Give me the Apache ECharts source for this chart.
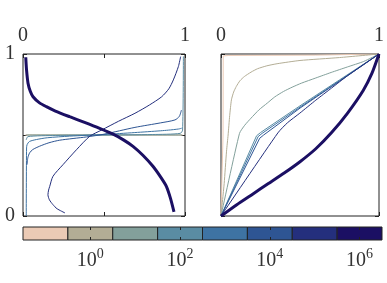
<!DOCTYPE html>
<html><head><meta charset="utf-8">
<script src="https://cdn.jsdelivr.net/npm/echarts@6/dist/echarts.min.js"></script>
<style>html,body{margin:0;padding:0;background:#fff}#c{width:387px;height:283px}</style>
</head><body><div id="c"></div>
<script>
// colour levels (one per decade of the parameter)
const levelColors = ['#ebcab5','#b3ad95','#83a09b','#5a8ca3','#3e73a3','#2e5593','#242f7d','#1b0f63'];
const levelWidths = [1,1,1,1,1,1,1,3];
// colorbar: bin edges in log10 units and labelled exponents
const cbEdges = [-1.5,-0.5,0.5,1.5,2.5,3.5,4.5,5.5,6.5];
const cbTicks = [0,2,4,6];
const panelTicks = [0,1];

// left panel curves [x, y]
const L1 = [[0.015,0.5],[0.985,0.5]];
const L2 = [[0.017,0.5],[0.983,0.5]];
const L3 = [[0.02,0.5],[0.98,0.5]];
const L4 = [[0.99,0.985],[0.985,0.53],[0.97,0.51],[0.8,0.503],[0.5,0.5],[0.2,0.497],[0.03,0.49],[0.02,0.47]];
const L5 = [[0.02,0.0],[0.022,0.42],[0.025,0.44],[0.04,0.46],[0.083,0.472],[0.15,0.483],[0.288,0.493],[0.5,0.503],[0.69,0.515],[0.85,0.526],[0.897,0.53],[0.96,0.537],[0.98,0.542]];
const L6 = [[0.025,0.317],[0.03,0.36],[0.041,0.39],[0.06,0.41],[0.103,0.431],[0.16,0.452],[0.227,0.468],[0.391,0.488],[0.5,0.505],[0.691,0.547],[0.85,0.575],[0.938,0.593],[0.965,0.615],[0.978,0.654]];
const L7 = [[0.259,0.019],[0.21,0.045],[0.185,0.07],[0.163,0.1],[0.154,0.131],[0.158,0.16],[0.165,0.183],[0.185,0.245],[0.247,0.317],[0.33,0.409],[0.412,0.492],[0.486,0.531],[0.59,0.585],[0.691,0.634],[0.78,0.685],[0.856,0.736],[0.9,0.785],[0.928,0.84],[0.959,0.922],[0.973,0.984]];
const L8 = [[0.017,0.98],[0.022,0.9],[0.031,0.82],[0.045,0.77],[0.062,0.736],[0.1,0.7],[0.144,0.675],[0.2,0.648],[0.288,0.613],[0.38,0.578],[0.473,0.541],[0.556,0.505],[0.62,0.47],[0.679,0.43],[0.74,0.375],[0.802,0.307],[0.85,0.24],[0.885,0.183],[0.91,0.11],[0.932,0.025]];

// right panel curves [x, y]
const R1 = [[0,0],[0.013,0.5],[0.014,0.988],[0.05,0.991],[0.6,0.993],[1,1]];
const R2 = [[0,0],[0.02,0.2],[0.035,0.4],[0.045,0.5],[0.055,0.62],[0.066,0.717],[0.08,0.765],[0.097,0.8],[0.12,0.835],[0.148,0.861],[0.19,0.888],[0.231,0.909],[0.29,0.927],[0.355,0.94],[0.5,0.96],[0.75,0.978],[1,1]];
const R3 = [[0,0],[0.117,0.51],[0.15,0.56],[0.19,0.604],[0.24,0.655],[0.293,0.697],[0.34,0.735],[0.396,0.769],[0.45,0.795],[0.509,0.82],[0.6,0.852],[0.697,0.886],[0.8,0.92],[0.903,0.954],[1,1]];
const R4 = [[0,0],[0.225,0.495],[0.25,0.515],[0.5,0.68],[0.75,0.84],[1,1]];
const R5 = [[0,0],[0.235,0.49],[0.26,0.51],[0.5,0.672],[0.75,0.835],[1,1]];
const R6 = [[0,0],[0.245,0.48],[0.27,0.5],[0.5,0.666],[0.75,0.832],[1,1]];
const R7 = [[0,0],[0.36,0.513],[0.42,0.575],[0.499,0.635],[0.6,0.715],[0.7,0.79],[0.8,0.865],[1,1]];
const R8 = [[0,0],[0.1,0.07],[0.2,0.135],[0.3,0.2],[0.4,0.265],[0.5,0.335],[0.6,0.415],[0.7,0.515],[0.8,0.634],[0.9,0.775],[0.955,0.88],[1,1]];

const leftCurves = [L1,L2,L3,L4,L5,L6,L7,L8];
const rightCurves = [R1,R2,R3,R4,R5,R6,R7,R8];

const FONT = 'Liberation Serif';
const TXT = '#333';
const FRAME = '#222';

function xAx(grid, pos, labels, interval){
  return {gridIndex:grid, type:'value', min:0, max:1, interval:interval, position:pos,
    axisLine:{show:false, onZero:false}, splitLine:{show:false},
    axisTick:{show:true, inside:true, length:4, lineStyle:{color:FRAME, width:1}},
    axisLabel:{show:labels, margin:8, fontFamily:FONT, fontSize:20, color:TXT,
      formatter:v => panelTicks.includes(v) ? String(v) : ''}};
}
function yAx(grid, pos, labels, interval){
  return {gridIndex:grid, type:'value', min:0, max:1, interval:interval, position:pos,
    axisLine:{show:false, onZero:false}, splitLine:{show:false},
    axisTick:{show:true, inside:true, length:4, lineStyle:{color:FRAME, width:1}},
    axisLabel:{show:labels, margin:8, fontFamily:FONT, fontSize:20, color:TXT,
      formatter:v => panelTicks.includes(v) ? String(v) : ''}};
}

const series = [];
leftCurves.forEach((d,i) => series.push({type:'line', xAxisIndex:0, yAxisIndex:0, data:d, showSymbol:false,
  smooth:0.25, lineStyle:{color:levelColors[i], width:levelWidths[i]}, z:2+i, animation:false}));
rightCurves.forEach((d,i) => series.push({type:'line', xAxisIndex:2, yAxisIndex:2, data:d, showSymbol:false,
  smooth:(i===0||i>=3&&i<=5)?false:0.2, lineStyle:{color:levelColors[i], width:levelWidths[i]}, z:2+i, animation:false}));
series.push({type:'custom', xAxisIndex:4, yAxisIndex:4, animation:false,
  data: levelColors.map((c,i) => [cbEdges[i], cbEdges[i+1], i]),
  encode:{x:[0,1]},
  renderItem:(params, api) => {
    const p0 = api.coord([api.value(0), 1]);
    const p1 = api.coord([api.value(1), 0]);
    return {type:'rect', shape:{x:p0[0], y:p0[1], width:p1[0]-p0[0], height:p1[1]-p0[1]},
      style:{fill:levelColors[api.value(2)], stroke:FRAME, lineWidth:1}};
  }});

const chart = echarts.init(document.getElementById('c'), null, {renderer:'canvas'});
chart.setOption({
  animation:false,
  backgroundColor:'#fff',
  grid:[
    {left:23, top:54, width:162, height:162, show:true, borderColor:FRAME, borderWidth:1, backgroundColor:'transparent'},
    {left:221, top:54, width:161, height:162, show:true, borderColor:FRAME, borderWidth:1, backgroundColor:'transparent'},
    {left:23, top:227, width:359, height:13, show:false}
  ],
  xAxis:[
    xAx(0,'top',true,0.5), xAx(0,'bottom',false,0.5),
    xAx(1,'top',true,1), xAx(1,'bottom',false,1),
    {gridIndex:2, type:'value', min:-1.5, max:6.5, position:'bottom', z:10,
      axisLine:{show:false, onZero:false}, splitLine:{show:false},
      axisTick:{show:true, inside:true, length:3, customValues:cbTicks, lineStyle:{color:FRAME}},
      axisLabel:{show:true, margin:7, customValues:cbTicks,
        formatter:v => '{b|10}{s|' + v + '}',
        rich:{b:{fontFamily:FONT, fontSize:20, color:TXT, lineHeight:24, verticalAlign:'bottom'},
              s:{fontFamily:FONT, fontSize:14, color:TXT, lineHeight:17, verticalAlign:'top'}}}},
    {gridIndex:2, type:'value', min:-1.5, max:6.5, position:'top', z:10,
      axisLine:{show:false, onZero:false}, splitLine:{show:false},
      axisTick:{show:true, inside:true, length:3, customValues:cbTicks, lineStyle:{color:FRAME}},
      axisLabel:{show:false}}
  ],
  yAxis:[
    yAx(0,'left',true,0.5), yAx(0,'right',false,0.5),
    yAx(1,'left',false,1), yAx(1,'right',false,1),
    {gridIndex:2, type:'value', min:0, max:1, show:false}
  ],
  series: series
});
</script>
</body></html>
